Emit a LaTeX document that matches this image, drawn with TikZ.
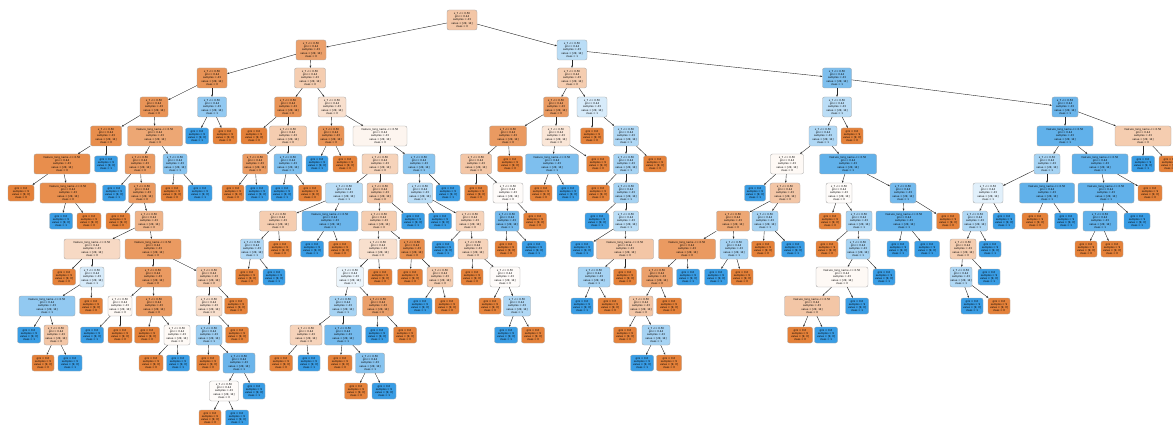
\documentclass[tikz,border=0pt]{standalone}
\usepackage{fontspec}
\setmainfont{DejaVu Sans}
\usetikzlibrary{arrows.meta}

\definecolor{cls0}{RGB}{229,129,57}
\definecolor{cls1}{RGB}{57,157,229}

% box texts
\newcommand{\splittxt}[1]{x\_7 <= 0.50\\gini = 0.44\\samples = 43\\value = [29, 14]\\class = #1}
\newcommand{\widetxt}[1]{feature\_long\_name <= 0.50\\gini = 0.44\\samples = 43\\value = [29, 14]\\class = #1}
\newcommand{\leaftxt}[1]{gini = 0.0\\samples = 9\\value = [9, 0]\\class = #1}

\begin{document}
\begin{tikzpicture}[x=1pt,y=-1pt,
  box/.style={draw=black!35, line width=0.35pt, rounded corners=2pt,
    inner sep=0pt, align=center, text=black,
    font=\fontsize{2.6}{3.3}\selectfont},
  link/.style={draw=black!85, line width=0.4pt,
    -{Stealth[length=2.2pt,width=1.8pt]}}]
  \useasboundingbox (0,0) rectangle (1173,425);

  % split nodes
  \foreach \i/\x/\y/\w/\c/\s in {
    1/462/20/30/0/45, 2/311/50/30/0/75, 3/572/50/30/1/35,
    4/212/78/30/0/85, 5/310/78/31/0/40, 6/154/107/28/0/85,
    7/212/107/29/1/55, 10/106/136/31/0/90, 18/140/164/30/0/80,
    19/175/164/24/1/60, 21/142/193/27/0/80, 25/149/221/28/0/60,
    29/92/277/24/1/20, 30/153/277/36/0/80, 31/209/277/25/0/45,
    35/56/335/24/0/45, 38/120/306/24/0/5, 39/154/306/36/0/80,
    43/177/335/26/0/5, 46/209/306/26/0/25, 48/209/335/26/1/50,
    51/239/363/32/1/75, 52/224/391/29/0/3, 56/288/107/27/0/85,
    57/332/107/28/0/25, 59/288/136/37/0/40, 60/255/164/25/0/80,
    61/288/164/28/1/65, 66/331/136/26/0/85, 70/380/164/36/0/35,
    71/419/164/32/1/60, 72/344/193/37/1/35, 73/380/193/26/0/45,
    74/420/193/25/1/35, 76/278/221/37/0/40, 78/379/221/35/0/40,
    81/470/221/28/0/35, 82/252/249/23/1/40, 86/378/249/38/0/25,
    87/412/249/25/0/90, 89/473/249/30/0/35, 92/350/277/27/1/10,
    95/440/277/26/0/40, 96/343/306/27/1/45, 97/378/306/31/0/75,
    100/306/335/32/0/35, 101/343/335/37/1/70, 107/370/363/29/1/60,
    161/505/277/30/0/3, 163/517/306/27/1/40,
    110/572/78/29/0/40, 111/837/78/29/1/65, 112/556/107/25/0/80,
    113/592/107/30/1/20, 114/508/136/37/0/80, 115/556/136/28/0/20,
    116/476/164/31/0/45, 119/508/193/30/0/3, 120/507/221/24/1/70,
    129/626/136/25/1/40, 130/626/164/25/1/45, 133/626/193/25/1/45,
    135/626/221/25/1/35, 138/594/277/32/1/45,
    170/837/107/29/1/35, 171/1065/107/26/1/75, 172/823/136/28/1/40,
    174/787/164/33/0/5, 177/785/193/30/0/45, 178/733/221/33/0/70,
    179/765/221/26/1/45, 181/734/249/28/1/45, 184/657/277/31/0/75,
    188/641/306/24/0/45, 191/656/335/28/1/45, 194/839/193/26/0/3,
    195/903/193/26/1/70, 197/859/221/26/1/45, 199/858/249/24/1/45,
    214/1047/164/26/1/45, 216/988/193/30/1/15, 220/975/221/25/1/40,
    222/963/249/26/0/40, 224/961/277/22/1/40, 232/1100/221/34/1/80}
    \node[box, fill=cls\c!\s!white, minimum width=\w, minimum height=20]
      (n\i) at (\x,\y) {\splittxt{\c}};

  % split nodes with long feature names
  \foreach \i/\x/\y/\w/\c/\s in {
    11/155/136/55/0/70, 12/62/164/56/0/90, 15/68/193/56/0/90,
    26/92/249/56/0/30, 27/153/249/56/0/80, 32/47/306/56/1/55,
    67/380/136/54/0/8, 77/330/221/56/1/75, 124/552/164/53/1/65,
    137/625/249/57/0/45, 175/848/164/57/1/80, 180/687/249/57/0/80,
    200/842/277/52/0/5, 202/812/306/55/0/45, 206/904/221/56/1/80,
    210/1065/136/56/1/80, 211/1143/136/56/0/40, 215/1100/164/56/1/80,
    217/1047/193/55/1/80, 218/1106/193/56/1/80}
    \node[box, fill=cls\c!\s!white, minimum width=\w, minimum height=20]
      (n\i) at (\x,\y) {\widetxt{\c}};

  % leaves
  \foreach \i/\x/\y/\w/\c in {
    8/197/136/23/1, 9/225/136/24/0, 13/106/164/23/1, 14/21/193/26/0,
    16/61/221/23/1, 17/89/221/24/0, 20/114/193/23/1, 22/172/193/22/0,
    23/200/193/24/1, 24/118/221/24/0, 28/64/277/23/0, 33/91/306/23/0,
    34/29/335/23/1, 36/43/363/22/0, 37/70/363/24/1, 40/92/335/23/1,
    41/120/335/24/0, 42/147/335/25/0, 44/151/363/24/0, 45/178/363/23/1,
    47/236/306/23/0, 49/237/335/23/0, 50/208/363/23/0, 53/254/391/22/1,
    54/210/418/22/0, 55/237/418/23/1,
    58/254/136/26/0, 62/233/193/22/0, 63/257/193/23/1, 64/282/193/22/1,
    65/310/193/23/0, 68/317/164/22/1, 69/345/164/24/0, 75/448/193/24/1,
    79/413/221/23/1, 80/440/221/23/1, 83/280/249/23/0, 84/312/249/23/1,
    85/340/249/23/0, 88/443/249/22/1, 90/247/277/23/0, 91/274/277/22/1,
    93/380/277/24/0, 94/410/277/25/0, 98/420/306/24/1, 99/447/306/24/0,
    102/377/335/23/1, 103/405/335/23/0, 104/281/363/23/0, 105/309/363/22/1,
    106/340/363/24/0, 108/356/391/23/0, 109/384/391/24/1,
    160/472/277/22/0, 162/490/306/22/0, 164/506/335/23/1, 165/533/335/23/0,
    117/510/164/25/0, 118/476/193/23/0, 121/535/221/23/0, 122/506/249/22/0,
    123/534/249/24/1, 125/598/164/23/0, 126/541/193/22/0, 127/568/193/22/1,
    128/592/136/23/0, 131/655/164/23/0, 132/598/193/23/0, 134/597/221/24/1,
    136/582/249/23/1, 139/625/277/23/0, 140/582/306/22/1, 141/610/306/24/0,
    173/852/136/22/0, 176/755/193/21/1, 182/763/249/23/0, 183/793/249/23/1,
    185/688/277/23/1, 186/716/277/23/1, 187/742/277/22/0, 189/669/306/25/0,
    190/625/335/23/0, 192/642/363/23/1, 193/669/363/25/0,
    196/830/221/22/0, 198/827/249/22/0, 201/884/277/22/1, 203/857/306/23/1,
    204/800/335/25/0, 205/826/335/23/1, 207/948/221/23/0, 208/898/249/22/1,
    209/927/249/25/1, 212/1143/164/23/1, 213/1170/164/22/0, 219/1150/193/24/0,
    221/1004/221/22/1, 223/990/249/22/1, 225/989/277/22/1, 226/972/306/22/1,
    227/999/306/22/0, 228/1035/221/26/0, 229/1066/221/23/1, 233/1137/221/26/1,
    234/1086/249/22/0, 235/1112/249/22/0}
    \node[box, fill=cls\c, minimum width=\w, minimum height=16]
      (n\i) at (\x,\y) {\leaftxt{\c}};

  % edges, parent/child
  \foreach \p/\q in {1/2,1/3,2/4,2/5,4/6,4/7,7/8,7/9,6/10,6/11,10/12,10/13,
    12/14,12/15,15/16,15/17,11/18,11/19,18/20,18/21,19/22,19/23,21/24,21/25,
    25/26,25/27,26/28,26/29,29/32,29/33,32/34,32/35,35/36,35/37,27/30,27/31,
    30/38,30/39,38/40,38/41,39/42,39/43,43/44,43/45,31/46,31/47,46/48,46/49,
    48/50,48/51,51/52,51/53,52/54,52/55,
    5/56,5/57,56/58,56/59,59/60,59/61,60/62,60/63,61/64,61/65,57/66,57/67,
    66/68,66/69,67/70,67/71,70/72,70/73,71/74,71/75,72/76,72/77,73/78,73/79,
    74/80,74/81,76/82,76/83,77/84,77/85,78/86,78/87,81/88,81/89,82/90,82/91,
    86/92,86/93,87/94,87/95,92/96,92/97,95/98,95/99,96/100,96/101,97/102,
    97/103,100/104,100/105,101/106,101/107,107/108,107/109,89/160,89/161,
    161/162,161/163,163/164,163/165,
    3/110,3/111,110/112,110/113,112/114,112/115,114/116,114/117,116/118,
    116/119,119/120,119/121,120/122,120/123,115/124,115/125,124/126,124/127,
    113/128,113/129,129/130,129/131,130/132,130/133,133/134,133/135,135/136,
    135/137,137/138,137/139,138/140,138/141,
    111/170,111/171,170/172,170/173,172/174,172/175,174/176,174/177,177/178,
    177/179,178/180,178/181,179/182,179/183,180/184,180/185,181/186,181/187,
    184/188,184/189,188/190,188/191,191/192,191/193,
    175/194,175/195,194/196,194/197,197/198,197/199,199/200,199/201,200/202,
    200/203,202/204,202/205,195/206,195/207,206/208,206/209,
    171/210,171/211,211/212,211/213,210/214,210/215,214/216,214/217,215/218,
    215/219,216/220,216/221,220/222,220/223,222/224,222/225,224/226,224/227,
    217/228,217/229,218/232,218/233,232/234,232/235}
    \draw[link] (n\p) -- (n\q);
\end{tikzpicture}
\end{document}
